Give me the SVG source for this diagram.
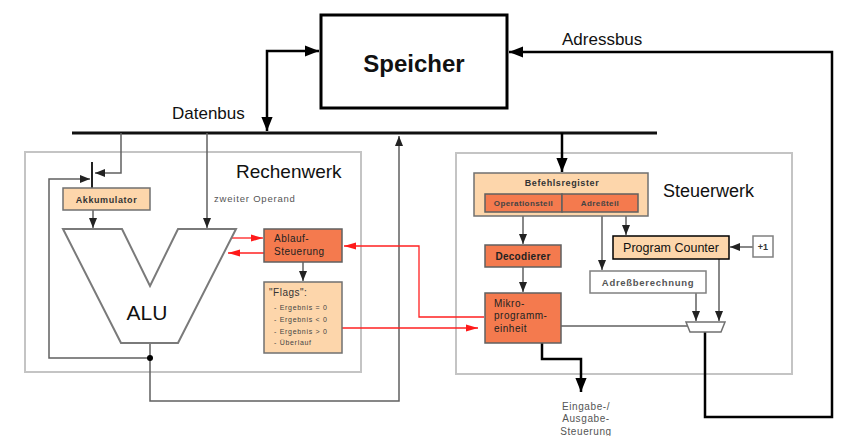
<svg xmlns="http://www.w3.org/2000/svg" width="846" height="436" viewBox="0 0 846 436">
<style>
.t{font-family:"Liberation Sans",Arial,sans-serif}
.frame{fill:none;stroke:#c4c4c4;stroke-width:2}
.peach{fill:#fdd6ab;stroke:#707070;stroke-width:1.5}
.coral{fill:#f47a4e;stroke:#606060;stroke-width:1.5}
.white{fill:#fff;stroke:#808080;stroke-width:1.5}
.g{fill:none;stroke:#606060;stroke-width:1.5}
.k{fill:none;stroke:#000;stroke-width:2.5}
.r{fill:none;stroke:#ff2020;stroke-width:1.3}
.sp{letter-spacing:0.5px}
.sm{font-size:9px;font-weight:bold;fill:#333;letter-spacing:0.6px}
.xs{font-size:8px;font-weight:bold;fill:#444;letter-spacing:0.4px}
</style>
<defs>
<marker id="ag" markerUnits="userSpaceOnUse" markerWidth="10" markerHeight="10" viewBox="0 0 10 10" refX="10" refY="5" orient="auto-start-reverse"><path d="M0,1 L10,5 L0,9 Z" fill="#222"/></marker>
<marker id="ak" markerUnits="userSpaceOnUse" markerWidth="14" markerHeight="14" viewBox="0 0 10 10" refX="10" refY="5" orient="auto-start-reverse"><path d="M0,1 L10,5 L0,9 Z" fill="#000"/></marker>
<marker id="ar" markerUnits="userSpaceOnUse" markerWidth="12" markerHeight="10" viewBox="0 0 12 10" refX="12" refY="5" orient="auto"><path d="M0,1.5 L12,5 L0,8.5 Z" fill="#ff1a1a"/></marker>
</defs>
<rect width="846" height="436" fill="#fff"/>

<g id="frames">
<rect class="frame" x="25" y="152" width="336" height="220"/>
<rect class="frame" x="456" y="153" width="336" height="221"/>
<text class="t" x="236" y="178" font-size="19" fill="#111">Rechenwerk</text>
<text class="t" x="663" y="197" font-size="18" fill="#111">Steuerwerk</text>
</g>

<g id="bus">
<line x1="72" y1="133" x2="657" y2="133" stroke="#111" stroke-width="3"/>
<text class="t" x="172" y="119" font-size="17" fill="#111">Datenbus</text>
<text class="t" x="562" y="45" font-size="17" fill="#111">Adressbus</text>
</g>

<g id="connectors">
<path class="k" d="M267 131 V51 H319" marker-start="url(#ak)" marker-end="url(#ak)"/>
<path class="k" d="M705 332 V417 H832 V52 H509" marker-end="url(#ak)"/>
<path class="k" d="M562 133 V172" stroke-width="3" marker-end="url(#ak)"/>
<path class="g" d="M121 133 V173 H95" marker-end="url(#ag)"/>
<path class="g" d="M150 358 H49 V179 H90" marker-end="url(#ag)"/>
<path d="M92 162 V188" stroke="#222" stroke-width="2" fill="none"/>
<path class="g" d="M93 210 V228" marker-end="url(#ag)"/>
<path class="g" d="M207 133 V228" marker-end="url(#ag)"/>
<path class="g" d="M150 343 V401 H399 V136" marker-end="url(#ag)"/>
<circle cx="150" cy="358" r="3" fill="#000"/>
<path class="g" d="M303 262 V281" stroke="#222" marker-end="url(#ag)"/>
<path class="r" d="M232 238 H263" marker-end="url(#ar)"/>
<path class="r" d="M264 253 H228" marker-end="url(#ar)"/>
<path class="r" d="M338 328 H478" marker-end="url(#ar)"/>
<path class="r" d="M484 317 H419 V246 H344" marker-end="url(#ar)"/>
<path class="g" d="M523 216 V244" marker-end="url(#ag)"/>
<path class="g" d="M523 267 V292" marker-end="url(#ag)"/>
<path class="g" d="M602 212 V270" marker-end="url(#ag)"/>
<path class="g" d="M626 212 V235" marker-end="url(#ag)"/>
<path class="g" d="M753 247 H730" stroke="#222" marker-end="url(#ag)"/>
<path class="g" d="M696 293 V321" marker-end="url(#ag)"/>
<path class="g" d="M719 259 V321" marker-end="url(#ag)"/>
<path class="g" d="M561 326 H688" stroke="#999"/>
<path class="k" d="M542 343 V359 H581 V392" marker-end="url(#ak)"/>
</g>

<g id="speicher">
<rect x="321" y="15" width="186" height="93" fill="#fff" stroke="#000" stroke-width="3"/>
<text class="t" x="414" y="72" font-size="24" font-weight="bold" text-anchor="middle" fill="#111">Speicher</text>
</g>

<g id="akkumulator">
<rect class="peach" x="63" y="188" width="87" height="22"/>
<text class="t sm" x="106.5" y="203" text-anchor="middle">Akkumulator</text>
</g>

<g id="zweiter-operand">
<text class="t" x="214" y="202" font-size="9.5" fill="#555" letter-spacing="0.8">zweiter Operand</text>
</g>

<g id="alu">
<polygon points="63,229 122,229 150,286 178,229 236,229 178,343 121,343" fill="#fff" stroke="#7a7a7a" stroke-width="2"/>
<text class="t" x="147" y="320" font-size="21" text-anchor="middle" fill="#111">ALU</text>
</g>

<g id="ablauf">
<rect class="coral" x="264" y="229" width="78" height="33"/>
<text class="t sp" x="274" y="242" font-size="10" fill="#222">Ablauf-</text>
<text class="t sp" x="274" y="255" font-size="10" fill="#222">Steuerung</text>
</g>

<g id="flags">
<rect class="peach" x="264" y="282" width="78" height="71"/>
<text class="t sp" x="269" y="296" font-size="10" fill="#333">"Flags":</text>
<text class="t" x="274" y="310" font-size="7" fill="#444" letter-spacing="0.7">- Ergebnis = 0</text>
<text class="t" x="274" y="322" font-size="7" fill="#444" letter-spacing="0.7">- Ergebnis &lt; 0</text>
<text class="t" x="274" y="334" font-size="7" fill="#444" letter-spacing="0.7">- Ergebnis &gt; 0</text>
<text class="t" x="274" y="345" font-size="7" fill="#444" letter-spacing="0.7">- Überlauf</text>
</g>

<g id="befehlsregister">
<rect class="peach" x="474" y="173" width="174" height="43"/>
<text class="t sm" x="562" y="186" text-anchor="middle">Befehlsregister</text>
<rect class="coral" x="485" y="194" width="77" height="18"/>
<rect class="coral" x="562" y="194" width="76" height="18"/>
<text class="t xs" x="523.5" y="206" text-anchor="middle">Operationsteil</text>
<text class="t xs" x="600" y="206" text-anchor="middle">Adreßteil</text>
</g>

<g id="decodierer">
<rect class="coral" x="485" y="245" width="76" height="22"/>
<text class="t" x="523" y="260" font-size="10" font-weight="bold" text-anchor="middle" fill="#222" letter-spacing="0.3">Decodierer</text>
</g>

<g id="mikro">
<rect class="coral" x="485" y="293" width="76" height="50"/>
<text class="t sp" x="494" y="307" font-size="10" fill="#222">Mikro-</text>
<text class="t sp" x="494" y="319" font-size="10" fill="#222">programm-</text>
<text class="t sp" x="494" y="332" font-size="10" fill="#222">einheit</text>
</g>

<g id="program-counter">
<rect x="613" y="236" width="116" height="23" fill="#fdd6ab" stroke="#000" stroke-width="1.5"/>
<text class="t" x="671" y="252" font-size="12.5" text-anchor="middle" fill="#111">Program Counter</text>
</g>

<g id="plus1">
<rect class="white" x="753" y="236" width="20" height="21"/>
<text class="t" x="763" y="250" font-size="9" font-weight="bold" text-anchor="middle" fill="#333">+1</text>
</g>

<g id="adressberechnung">
<rect class="white" x="590" y="271" width="116" height="22"/>
<text class="t" x="648" y="286" font-size="9.5" font-weight="bold" text-anchor="middle" fill="#555" letter-spacing="0.7">Adreßberechnung</text>
</g>

<g id="mux">
<polygon points="686,322 725,322 721,332 690,332" fill="#fff" stroke="#707070" stroke-width="1.5"/>
</g>

<g id="io">
<text class="t" x="586" y="410" font-size="10" text-anchor="middle" fill="#555" letter-spacing="0.6">Eingabe-/</text>
<text class="t" x="586" y="422" font-size="10" text-anchor="middle" fill="#555" letter-spacing="0.6">Ausgabe-</text>
<text class="t" x="586" y="435" font-size="10" text-anchor="middle" fill="#555" letter-spacing="0.6">Steuerung</text>
</g>
</svg>
